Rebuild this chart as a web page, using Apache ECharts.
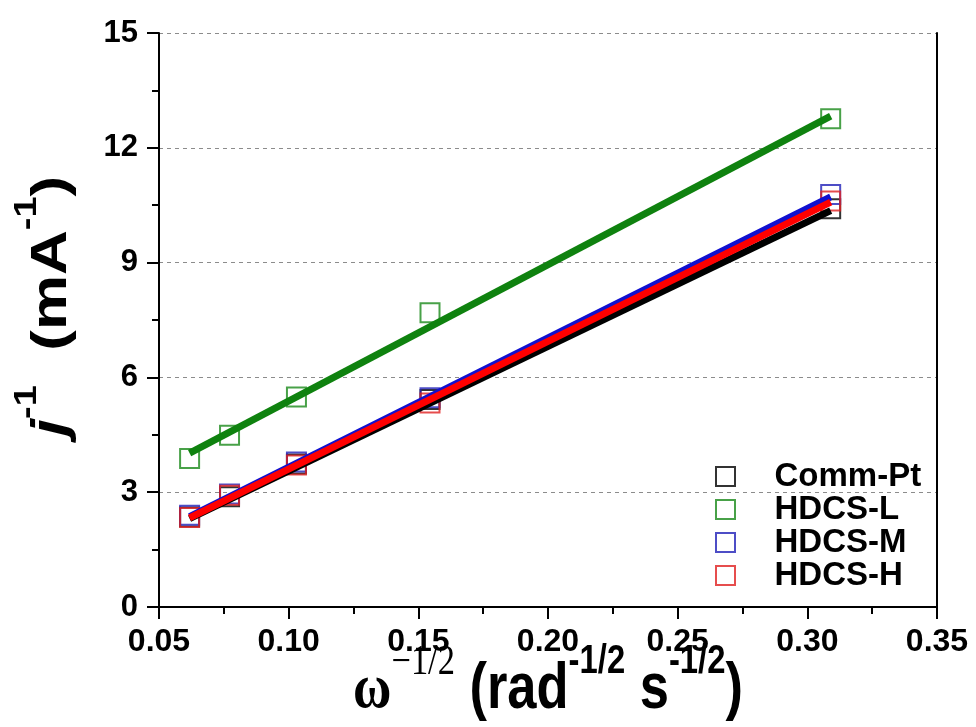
<!DOCTYPE html>
<html>
<head>
<meta charset="utf-8">
<script src="https://cdn.jsdelivr.net/npm/echarts@6/dist/echarts.min.js"></script>
<style>
  html, body { margin: 0; padding: 0; background: #fff; }
  #chart { width: 976px; height: 727px; }
</style>
</head>
<body>
<div id="chart"></div>
<script>
// omega^-1/2 values (100..2500 rpm)
const xValues = [0.0618, 0.0772, 0.103, 0.1545, 0.309];
const commPt = [2.35, 2.88, 3.74, 5.42, 10.41];
const hdcsL = [3.88, 4.49, 5.49, 7.69, 12.76];
const hdcsM = [2.40, 2.95, 3.79, 5.47, 10.78];
const hdcsH = [2.34, 2.92, 3.71, 5.33, 10.61];
// linear fit end points
const fitX = [0.0618, 0.309];
const fitCommPt = [2.31, 10.36];
const fitHdcsL = [4.02, 12.83];
const fitHdcsM = [2.36, 10.72];
const fitHdcsH = [2.33, 10.58];

const seriesNames = ["Comm-Pt", "HDCS-L", "HDCS-M", "HDCS-H"];
const markerColors = ["#000000", "#1a8a1a", "#2020b8", "#e02020"];
const lineColors = ["#000000", "#0f820f", "#1010d0", "#ff0000"];
const pointSets = [commPt, hdcsL, hdcsM, hdcsH];
const fitSets = [fitCommPt, fitHdcsL, fitHdcsM, fitHdcsH];

const sansBold = "Liberation Sans, Arial, sans-serif";
const serif = "Liberation Serif, Times New Roman, serif";

const axisBlack = { color: "#000", width: 2 };

const chart = echarts.init(document.getElementById("chart"), null, { renderer: "canvas" });

const scatterSeries = pointSets.map((vals, i) => ({
  name: seriesNames[i],
  type: "scatter",
  symbol: "rect",
  symbolSize: 19,
  z: 2,
  itemStyle: { color: "rgba(0,0,0,0)", borderColor: markerColors[i], borderWidth: 2 },
  data: xValues.map((x, k) => [x, vals[k]]),
}));

// draw order of fit lines: green, black, blue, red (red on top)
const fitOrder = [1, 0, 2, 3];
const lineSeries = fitOrder.map((i, n) => ({
  name: seriesNames[i] + " fit",
  type: "line",
  symbol: "none",
  silent: true,
  z: 3 + n,
  lineStyle: { color: lineColors[i], width: 7 },
  data: fitX.map((x, k) => [x, fitSets[i][k]]),
}));

// axis titles (the original lettering is horizontally squeezed)
const xTitle = {
  type: "text",
  x: 548,
  y: 682,
  scaleX: 0.82,
  style: {
    text: "{w|ω}{ws|−1/2}{t| (rad}{s|-1/2}{t| s}{s|-1/2}{t|)}",
    align: "center",
    verticalAlign: "middle",
    rich: {
      w: { fontFamily: serif, fontWeight: "bold", fontSize: 64, lineHeight: 80, verticalAlign: "bottom", fill: "#000" },
      ws: { fontFamily: serif, fontSize: 42, lineHeight: 40, verticalAlign: "top", fill: "#000" },
      t: { fontFamily: sansBold, fontWeight: "bold", fontSize: 64, lineHeight: 80, verticalAlign: "bottom", fill: "#000" },
      s: { fontFamily: sansBold, fontWeight: "bold", fontSize: 40, lineHeight: 40, verticalAlign: "top", fill: "#000" },
    },
  },
};
const yTitle = {
  type: "text",
  x: 45,
  y: 306,
  rotation: Math.PI / 2,
  scaleY: 0.82,
  style: {
    text: "{j|j}{s|-1}{n|  (mA}{s|-1}{n|)}",
    align: "center",
    verticalAlign: "middle",
    rich: {
      j: { fontFamily: sansBold, fontWeight: "bold", fontStyle: "italic", fontSize: 62, lineHeight: 80, verticalAlign: "bottom", fill: "#000" },
      n: { fontFamily: sansBold, fontWeight: "bold", fontSize: 62, lineHeight: 80, verticalAlign: "bottom", fill: "#000" },
      s: { fontFamily: sansBold, fontWeight: "bold", fontSize: 38, lineHeight: 38, verticalAlign: "top", fill: "#000" },
    },
  },
};

chart.setOption({
  animation: false,
  backgroundColor: "#fff",
  grid: { left: 159, right: 39, top: 33, bottom: 120, outerBoundsMode: "none" },
  graphic: [xTitle, yTitle],
  legend: {
    orient: "vertical",
    left: 710,
    top: 455,
    itemWidth: 88,
    itemHeight: 19,
    itemGap: 0,
    selectedMode: false,
    icon: "path://M0,0L1,0L1,1L0,1Z",
    textStyle: { fontFamily: sansBold, fontWeight: "bold", fontSize: 33, lineHeight: 33, color: "#000" },
    data: seriesNames.map((n, i) => ({
      name: n,
      itemStyle: { color: "rgba(0,0,0,0)", borderColor: markerColors[i], borderWidth: 2 },
    })),
  },
  xAxis: [
    {
      type: "value",
      position: "bottom",
      min: 0.05,
      max: 0.35,
      interval: 0.05,
      axisLine: { lineStyle: axisBlack },
      axisTick: { length: 12, lineStyle: axisBlack },
      minorTick: { show: true, splitNumber: 2, length: 7, lineStyle: axisBlack },
      splitLine: { show: false },
      axisLabel: {
        margin: 19,
        fontFamily: sansBold,
        fontWeight: "bold",
        fontSize: 32,
        color: "#000",
        formatter: (v) => v.toFixed(2),
      },
    },
    {
      type: "value",
      position: "top",
      min: 0.05,
      max: 0.35,
      interval: 0.05,
      axisLine: { lineStyle: axisBlack },
      axisTick: { show: false },
      axisLabel: { show: false },
      splitLine: { show: false },
    },
  ],
  yAxis: [
    {
      type: "value",
      position: "left",
      min: 0,
      max: 15,
      interval: 3,
      axisLine: { show: true, lineStyle: axisBlack },
      axisTick: { show: true, length: 12, lineStyle: axisBlack },
      minorTick: { show: true, splitNumber: 2, length: 7, lineStyle: axisBlack },
      splitLine: { show: true, lineStyle: { color: "#8c8c8c", width: 1, type: [4, 4] } },
      axisLabel: { margin: 21, fontFamily: sansBold, fontWeight: "bold", fontSize: 31, color: "#000" },
    },
    {
      type: "value",
      position: "right",
      min: 0,
      max: 15,
      interval: 3,
      axisLine: { show: true, lineStyle: axisBlack },
      axisTick: { show: false },
      axisLabel: { show: false },
      splitLine: { show: false },
    },
  ],
  series: [...scatterSeries, ...lineSeries],
});
</script>
</body>
</html>
